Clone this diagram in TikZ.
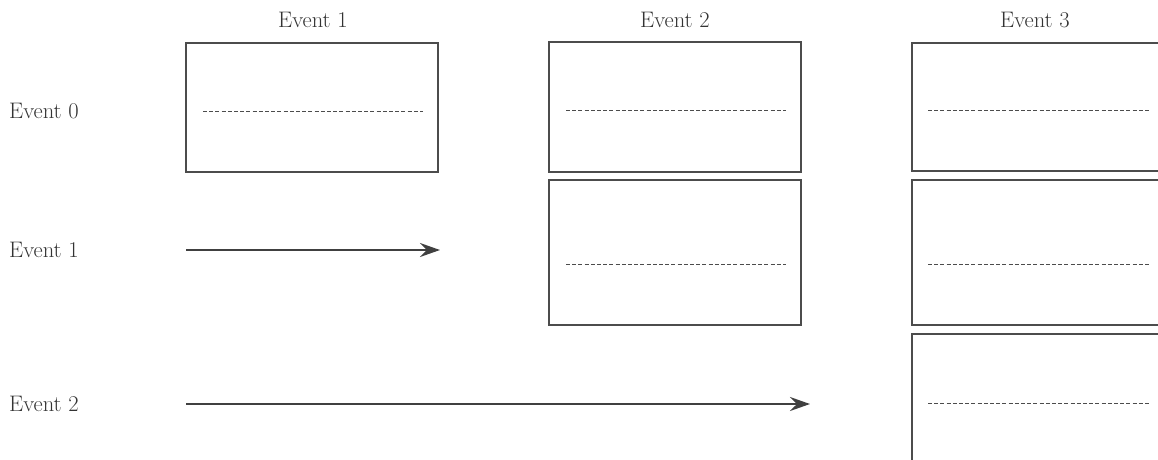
\documentclass[tikz,border=0pt]{standalone}
\usepackage{tikz}
\usetikzlibrary{arrows.meta}
\begin{document}
\begin{tikzpicture}[x=1pt,y=-1pt,
    lbl/.style={font=\fontsize{22.5}{27}\selectfont, text=black!80, inner sep=0pt},
    slot/.style={draw=black!70, line width=1.1pt, minimum width=252pt, inner sep=0pt},
    sep/.style={draw=black!70, line width=1pt, dash pattern=on 4pt off 2.2pt},
    flow/.style={draw=black!75, line width=2.2pt, -{Stealth[length=20pt,width=14pt,inset=7pt]}}]
    \useasboundingbox (0,0) rectangle (1158,459);
    \clip (0,0) rectangle (1158,459);
            \node[lbl] (c1) at (313, 20) {Event 1};
            \node[lbl] (c2) at (675, 20) {Event 2};
            \node[lbl] (c3) at (1035, 20) {Event 3};
            \node[lbl, anchor=west] (r0) at (9, 111) {Event 0};
            \node[lbl, anchor=west] (r1) at (9, 250) {Event 1};
            \node[lbl, anchor=west] (r2) at (9, 404) {Event 2};
            \node[slot, minimum height=129pt] (b10) at (312, 107.5) {};
            \node[slot, minimum height=130pt] (b20) at (675, 107) {};
            \node[slot, minimum height=145pt] (b21) at (675, 252.5) {};
            \node[slot, minimum height=128pt] (b30) at (1038, 107) {};
            \node[slot, minimum height=145pt] (b31) at (1038, 252.5) {};
            \node[slot, minimum height=150pt] (b32) at (1038, 409) {};
            \draw[sep] (203, 111) -- (423, 111);
            \draw[sep] (566, 110) -- (786, 110);
            \draw[sep] (566, 264) -- (786, 264);
            \draw[sep] (928, 110) -- (1149, 110);
            \draw[sep] (928, 264) -- (1149, 264);
            \draw[sep] (928, 403) -- (1149, 403);
            \coordinate (s1) at (186, 250);
            \coordinate (e1) at (440, 250);
            \coordinate (s2) at (186, 404);
            \coordinate (e2) at (810, 404);
            \draw[flow] (s1) -- (e1);
            \draw[flow] (s2) -- (e2);
\end{tikzpicture}
\end{document}
